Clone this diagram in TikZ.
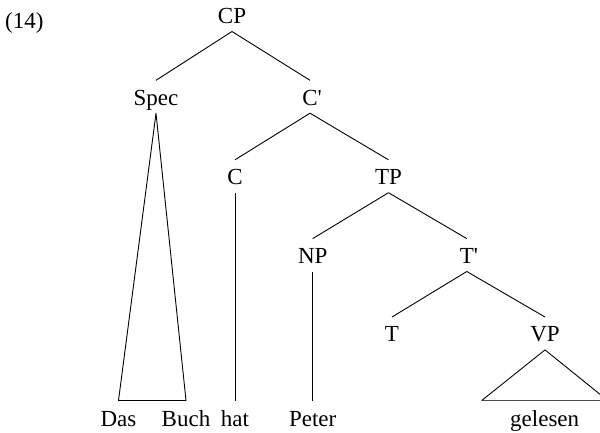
\documentclass[tikz,border=0pt]{standalone}
\usepackage{fontspec}
\setmainfont{Liberation Serif}[Ligatures=TeXOff]
\usetikzlibrary{calc}
\begin{document}
\begin{tikzpicture}[x=1pt,y=-1pt,
  lab/.style={anchor=base, inner sep=0pt, text height=24.5pt, text depth=8pt,
              font=\fontsize{23}{27}\selectfont},
  leaf/.style={lab, text height=26pt},
  edge/.style={line width=0.9pt, black, line join=round},
  basebar/.style={line width=1.8pt, black!70}]
\useasboundingbox (0,0) rectangle (600,432);
\clip (0,0) rectangle (600,432);
\node[anchor=base west, inner sep=0pt, font=\fontsize{23}{27}\selectfont] (num) at (5,28.3) {(14)};
\node[lab] (CP)   at (232,23.3) {CP};
\node[lab] (Spec) at (156,105) {Spec};
\node[lab] (C1)   at (310,105) {C\rlap{'}};
\node[lab] (C)    at (235,184.5) {C};
\node[lab] (TP)   at (388.5,184.5) {TP};
\node[lab] (NP)   at (312.7,263.3) {NP};
\node[lab] (T1)   at (466.8,263.3) {T\rlap{'}};
\node[lab] (T)    at (392,341.7) {T};
\node[lab] (VP)   at (545,341.7) {VP};
\node[leaf] (Das)     at (118.5,426.7) {Das};
\node[leaf] (Buch)    at (186,426.7) {Buch};
\node[leaf] (hat)     at (235,426.7) {hat};
\node[leaf] (Peter)   at (312.7,426.7) {Peter};
\node[leaf] (gelesen) at (544.7,426.7) {gelesen};
\draw[edge] (CP.south) -- (Spec.north);
\draw[edge] (CP.south) -- (C1.north);
\draw[edge] (C1.south) -- (C.north);
\draw[edge] (C1.south) -- (TP.north);
\draw[edge] (TP.south) -- (NP.north);
\draw[edge] (TP.south) -- (T1.north);
\draw[edge] (T1.south) -- (T.north);
\draw[edge] (T1.south) -- (VP.north);
\draw[edge] (C.south) -- (hat.north);
\draw[edge] (NP.south) -- (Peter.north);
\draw[edge] (Spec.south) -- (Das.north) -- (Buch.north) -- cycle;
\coordinate (vl) at ($(gelesen.north)+(-63,0)$);
\coordinate (vr) at ($(gelesen.north)+(63,0)$);
\draw[basebar] (vl) -- (vr);
\draw[edge] (vl) -- (VP.south) -- (vr);
\end{tikzpicture}
\end{document}
